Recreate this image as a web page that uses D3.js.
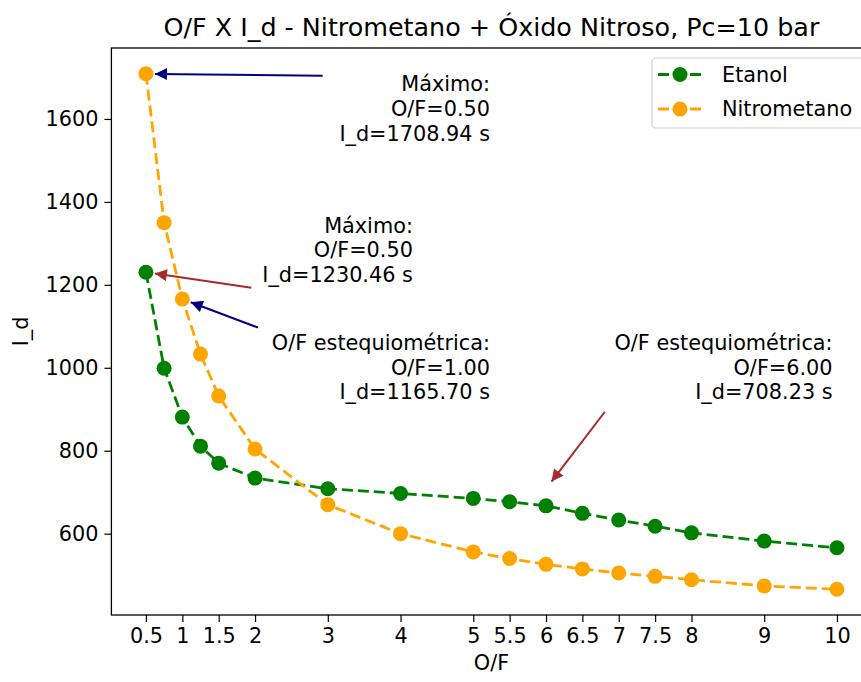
<!DOCTYPE html>
<html>
<head>
<meta charset="utf-8">
<script src="https://cdn.jsdelivr.net/npm/d3@7"></script>
<style>
  html, body { margin: 0; padding: 0; background: #fff; }
  svg { display: block; font-family: "DejaVu Sans", sans-serif; }
</style>
</head>
<body>
<svg id="chart" width="861" height="682"></svg>
<script>
// O/F ratios sampled for both propellant pairs
const ofValues = [0.5, 0.75, 1, 1.25, 1.5, 2, 3, 4, 5, 5.5, 6, 6.5, 7, 7.5, 8, 9, 10];

// Ideal specific impulse I_d (s)
const etanol = [1230.46, 999, 881, 811, 770, 734, 708.23, 697, 685, 677, 667, 649, 633, 618, 602, 582, 566];
const nitrometano = [1708.94, 1350, 1165.70, 1033, 932, 804, 670, 600, 556, 540, 526, 515, 505, 497, 489, 474, 466];

const xTicks = [0.5, 1, 1.5, 2, 3, 4, 5, 5.5, 6, 6.5, 7, 7.5, 8, 9, 10];
const yTicks = [600, 800, 1000, 1200, 1400, 1600];

const seriesNames = ["Etanol", "Nitrometano"];
const seriesColors = ["#008000", "#FFA500"];

// Callouts: point marked, arrow tail and text anchor (data units)
const noteTargetOF = [0.5, 0.5, 1.0, 6.0];
const noteTargetId = [1708.94, 1230.46, 1165.70, 708.23];
const noteTailOF = [2.93, 1.95, 2.04, 6.81];
const noteTailId = [1704, 1193, 1097, 894];
const noteTextOF = [5.23, 4.17, 5.23, 9.94];
const noteTextId = [1684, 1343, 1060, 1060];
const noteTitles = ["Máximo:", "Máximo:", "O/F estequiométrica:", "O/F estequiométrica:"];
const noteColors = ["#000080", "#A52A2A", "#000080", "#A52A2A"];

const svg = d3.select("#chart");
const plotL = 111.4, plotR = 871.5, plotT = 48, plotB = 615;

const xPad = 0.05 * (d3.max(ofValues) - d3.min(ofValues));
const x = d3.scaleLinear()
  .domain([d3.min(ofValues) - xPad, d3.max(ofValues) + xPad])
  .range([plotL, plotR]);

const allY = etanol.concat(nitrometano);
const yPad = 0.05 * (d3.max(allY) - d3.min(allY));
const y = d3.scaleLinear()
  .domain([d3.min(allY) - yPad, d3.max(allY) + yPad])
  .range([plotB, plotT]);

const fontSize = 20.8;

// Axes
const xAxis = svg.append("g")
  .attr("transform", `translate(0,${plotB})`)
  .call(d3.axisBottom(x).tickValues(xTicks).tickFormat(d3.format("")).tickSize(7).tickPadding(6));
const yAxis = svg.append("g")
  .attr("transform", `translate(${plotL},0)`)
  .call(d3.axisLeft(y).tickValues(yTicks).tickFormat(d3.format("d")).tickSize(7).tickPadding(6));

[xAxis, yAxis].forEach(g => {
  g.select(".domain").remove();
  g.selectAll(".tick line").attr("stroke", "#000").attr("stroke-width", 1.2);
  g.selectAll(".tick text").attr("fill", "#000").attr("font-size", fontSize)
    .attr("font-family", "DejaVu Sans");
});

// Frame
svg.append("rect")
  .attr("x", plotL).attr("y", plotT)
  .attr("width", plotR - plotL).attr("height", plotB - plotT)
  .attr("fill", "none").attr("stroke", "#000").attr("stroke-width", 1.3);

// Series
const line = d3.line().x(d => x(d[0])).y(d => y(d[1]));
[etanol, nitrometano].forEach((vals, i) => {
  const pts = ofValues.map((o, k) => [o, vals[k]]);
  const g = svg.append("g");
  g.append("path")
    .attr("d", line(pts))
    .attr("fill", "none")
    .attr("stroke", seriesColors[i])
    .attr("stroke-width", 2.8)
    .attr("stroke-dasharray", "11,5");
  g.selectAll("circle").data(pts).join("circle")
    .attr("cx", d => x(d[0])).attr("cy", d => y(d[1]))
    .attr("r", 7.5)
    .attr("fill", seriesColors[i]);
});

// Arrow heads
const defs = svg.append("defs");
noteColors.forEach((c, i) => {
  defs.append("marker")
    .attr("id", "head" + i)
    .attr("viewBox", "0 0 10 10")
    .attr("refX", 10).attr("refY", 5)
    .attr("markerUnits", "userSpaceOnUse")
    .attr("markerWidth", 14).attr("markerHeight", 12)
    .attr("orient", "auto")
    .append("path")
    .attr("d", "M0,0 L10,5 L0,10 Z")
    .attr("fill", c);
});

// Callouts
noteTargetOF.forEach((o, i) => {
  const tx = x(o), ty = y(noteTargetId[i]);
  const sx = x(noteTailOF[i]), sy = y(noteTailId[i]);
  const len = Math.hypot(tx - sx, ty - sy);
  const shrink = 9;
  const ex = tx - (tx - sx) / len * shrink, ey = ty - (ty - sy) / len * shrink;
  svg.append("line")
    .attr("x1", sx).attr("y1", sy).attr("x2", ex).attr("y2", ey)
    .attr("stroke", noteColors[i]).attr("stroke-width", 2)
    .attr("marker-end", `url(#head${i})`);

  const lines = [noteTitles[i], `O/F=${o.toFixed(2)}`, `I_d=${noteTargetId[i].toFixed(2)} s`];
  const t = svg.append("text")
    .attr("text-anchor", "end")
    .attr("font-size", fontSize)
    .attr("fill", "#000");
  lines.forEach((s, k) => {
    t.append("tspan")
      .attr("x", x(noteTextOF[i]))
      .attr("y", y(noteTextId[i]) + k * 24.6)
      .attr("dy", "0.35em")
      .text(s);
  });
});

// Legend
const lg = svg.append("g");
lg.append("rect")
  .attr("x", 652).attr("y", 58).attr("width", 215).attr("height", 70)
  .attr("rx", 4).attr("fill", "#fff").attr("fill-opacity", 0.8)
  .attr("stroke", "#d0d0d0").attr("stroke-width", 1.2);
seriesNames.forEach((n, i) => {
  const cy = 74.5 + i * 34.5;
  lg.append("line")
    .attr("x1", 658).attr("x2", 702).attr("y1", cy).attr("y2", cy)
    .attr("stroke", seriesColors[i]).attr("stroke-width", 2.8)
    .attr("stroke-dasharray", "11,5");
  lg.append("circle").attr("cx", 680).attr("cy", cy).attr("r", 7.5).attr("fill", seriesColors[i]);
  lg.append("text").attr("x", 722).attr("y", cy).attr("dy", "0.35em")
    .attr("font-size", fontSize).attr("fill", "#000").text(n);
});

// Titles
svg.append("text")
  .attr("x", (plotL + plotR) / 2).attr("y", 27).attr("dy", "0.35em")
  .attr("text-anchor", "middle").attr("font-size", 25.4).attr("fill", "#000")
  .text("O/F X I_d - Nitrometano + Óxido Nitroso, Pc=10 bar");
svg.append("text")
  .attr("x", (plotL + plotR) / 2).attr("y", 663).attr("dy", "0.35em")
  .attr("text-anchor", "middle").attr("font-size", fontSize).attr("fill", "#000")
  .text("O/F");
svg.append("text")
  .attr("transform", `translate(21,${(plotT + plotB) / 2}) rotate(-90)`)
  .attr("dy", "0.35em")
  .attr("text-anchor", "middle").attr("font-size", fontSize).attr("fill", "#000")
  .text("I_d");
</script>
</body>
</html>
